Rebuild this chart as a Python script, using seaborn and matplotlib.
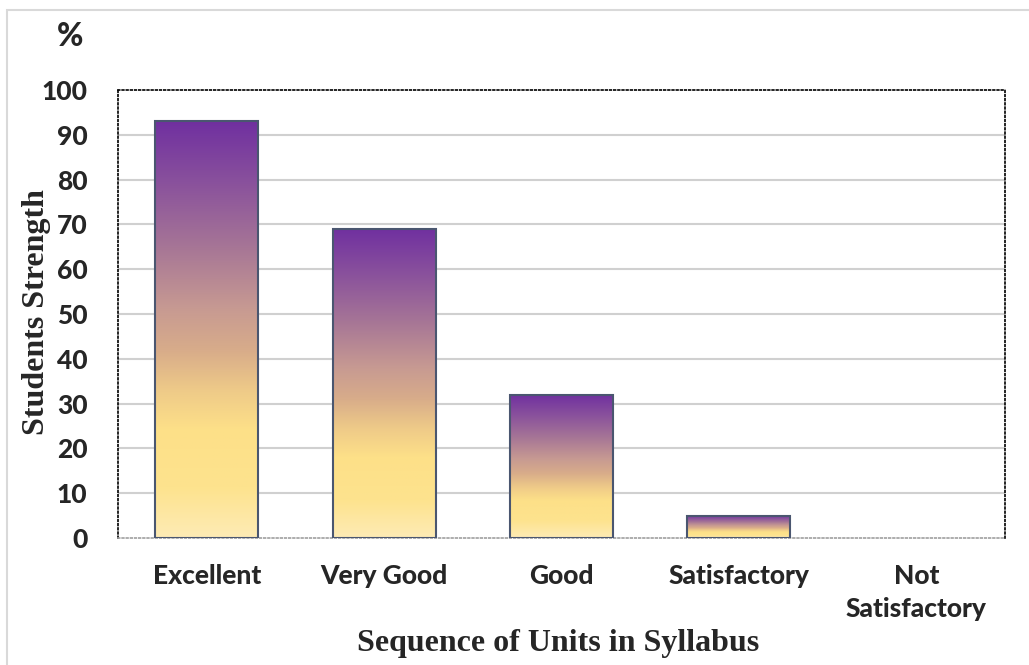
import numpy as np
import pandas as pd
import seaborn as sns
import matplotlib.pyplot as plt
from matplotlib.colors import LinearSegmentedColormap
from matplotlib.patches import Rectangle

# Datos
categorias = ["Excellent", "Very Good", "Good", "Satisfactory", "Not\nSatisfactory"]
valores = [93, 69, 32, 5, 0]
yticks = [0, 10, 20, 30, 40, 50, 60, 70, 80, 90, 100]

df = pd.DataFrame({"Categoria": categorias, "Valor": valores})

sns.set_style("white")
plt.rcParams["font.family"] = ["Lato", "DejaVu Sans"]

fig = plt.figure(figsize=(10.29, 6.65), dpi=100)
ax = fig.add_axes([0.1147, 0.191, 0.862, 0.6737])

sns.barplot(data=df, x="Categoria", y="Valor", ax=ax, width=0.58,
            facecolor="none", edgecolor="#4A5670", linewidth=1.5, zorder=3)

# Gradiente por barra (amarillo abajo -> morado arriba)
cmap = LinearSegmentedColormap.from_list("grad", [
    (0.0, "#FEEBB5"), (0.12, "#FDE38E"), (0.26, "#FDE088"), (0.35, "#EFCB88"),
    (0.45, "#D8AC8A"), (0.55, "#C79A92"), (0.70, "#A67596"), (0.85, "#8A529C"),
    (1.0, "#7030A0")])
grad = np.linspace(0, 1, 256).reshape(-1, 1)
for p in ax.patches:
    x0, w, h = p.get_x(), p.get_width(), p.get_height()
    if h <= 0:
        p.set_edgecolor("none")
        continue
    im = ax.imshow(grad, cmap=cmap, origin="lower", aspect="auto",
                   extent=[x0, x0 + w, 0, h], zorder=2)
    im.set_clip_path(p)

ax.set_xlim(-0.5, 4.5)
ax.set_ylim(0, 100)
ax.set_yticks(yticks)
for v in yticks[1:-1]:
    ax.axhline(v, color="#D0D0D0", lw=1.5, zorder=1)

for s in ["top", "left", "right"]:
    ax.spines[s].set_linestyle((0, (1, 1.5)))
    ax.spines[s].set_color("black")
    ax.spines[s].set_linewidth(1.2)
ax.spines["bottom"].set_linestyle((0, (1, 1.5)))
ax.spines["bottom"].set_color("#A0A0A0")
ax.spines["bottom"].set_linewidth(1.2)

ax.tick_params(axis="both", length=0, labelsize=19)
ax.tick_params(axis="y", pad=22)
ax.tick_params(axis="x", pad=19)
for lab in ax.get_xticklabels() + ax.get_yticklabels():
    lab.set_fontweight(900)
for lab in ax.get_xticklabels():
    lab.set_linespacing(1.45)
    lab.set_verticalalignment("top")

ax.set_xlabel("")
ax.set_ylabel("")
fig.text(0.035, 0.53, "Students Strength", rotation=90, ha="center", va="center",
         family="Liberation Serif", fontweight="bold", fontsize=23)
fig.text(0.542, 0.033, "Sequence of Units in Syllabus", ha="center", va="center",
         family="Liberation Serif", fontweight="bold", fontsize=23)
fig.text(0.068, 0.945, "%", ha="center", va="center", fontweight=900, fontsize=23)

# Borde de la figura
fig.patches.append(Rectangle((0.007, -0.01), 1.0, 0.995, transform=fig.transFigure,
                             fill=False, edgecolor="#D9D9D9", lw=1.5))

fig.savefig("out.png", dpi=100)
